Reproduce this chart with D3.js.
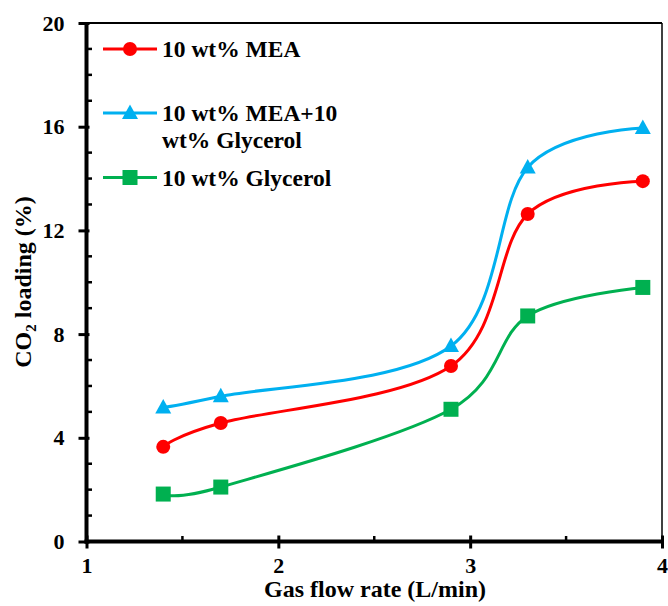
<!DOCTYPE html>
<html>
<head>
<meta charset="utf-8">
<script src="https://cdn.jsdelivr.net/npm/d3@7"></script>
<style>
  html, body { margin: 0; padding: 0; background: #fff; }
  svg { display: block; font-family: "Liberation Serif", "Times New Roman", serif; font-weight: bold; }
</style>
</head>
<body>
<svg id="chart" width="668" height="606"></svg>
<script>
// Gas flow rate (L/min)
const flowRates = [1.4, 1.7, 2.9, 3.3, 3.9];
// CO2 loading (%) for each absorbent
const meaValues = [3.65, 4.57, 6.77, 12.63, 13.9];
const meaGlycerolValues = [5.17, 5.6, 7.54, 14.43, 15.95];
const glycerolValues = [1.83, 2.1, 5.1, 8.7, 9.8];

const seriesNames = ["10 wt% MEA", "10 wt% MEA+10 wt% Glycerol", "10 wt% Glycerol"];
const xTicks = [1, 2, 3, 4];
const yTicks = [0, 4, 8, 12, 16, 20];

const series = [
  { name: seriesNames[0], values: meaValues, color: "#FF0000", marker: "circle",
    legendLines: ["10 wt% MEA"] },
  { name: seriesNames[1], values: meaGlycerolValues, color: "#00B0F0", marker: "triangle",
    legendLines: ["10 wt% MEA+10", "wt% Glycerol"] },
  { name: seriesNames[2], values: glycerolValues, color: "#00B050", marker: "square",
    legendLines: ["10 wt% Glycerol"] }
];

const svg = d3.select("#chart");
const plotLeft = 86.5, plotRight = 662, plotTop = 23, plotBottom = 541.5;

const x = d3.scaleLinear().domain([1, 4]).range([plotLeft, plotRight]);
const y = d3.scaleLinear().domain([0, 20]).range([plotBottom, plotTop]);

// Frame: thin top and right borders
svg.append("line").attr("x1", plotLeft).attr("x2", plotRight).attr("y1", plotTop).attr("y2", plotTop)
  .attr("stroke", "#000").attr("stroke-width", 2);
svg.append("line").attr("x1", plotRight).attr("x2", plotRight).attr("y1", plotTop).attr("y2", plotBottom)
  .attr("stroke", "#000").attr("stroke-width", 1.5);

// Minor ticks (inside)
const yMinor = d3.range(0, 21, 1).filter(v => v % 4 !== 0);
svg.append("g").selectAll("line").data(yMinor).join("line")
  .attr("x1", plotLeft).attr("x2", plotLeft + 5.5)
  .attr("y1", d => y(d)).attr("y2", d => y(d))
  .attr("stroke", "#000").attr("stroke-width", 2.5);
const xMinor = [1.5, 2.5, 3.5];
svg.append("g").selectAll("line").data(xMinor).join("line")
  .attr("x1", d => x(d)).attr("x2", d => x(d))
  .attr("y1", plotBottom).attr("y2", plotBottom - 5.5)
  .attr("stroke", "#000").attr("stroke-width", 2.5);

// Y axis
const yAxis = svg.append("g").attr("transform", `translate(${plotLeft},0)`)
  .call(d3.axisLeft(y).tickValues(yTicks).tickFormat(d3.format("d"))
    .tickSize(8).tickPadding(14).tickSizeOuter(0));
yAxis.select(".domain").attr("stroke-width", 4).attr("d", `M0,${plotBottom + 2}V${plotTop - 1}`);
yAxis.selectAll(".tick line").attr("stroke-width", 3).attr("x1", 3);
yAxis.selectAll(".tick text").attr("font-size", 22).attr("font-family", "Liberation Serif")
  .attr("font-weight", "bold").attr("fill", "#000");

// X axis
const xAxis = svg.append("g").attr("transform", `translate(0,${plotBottom})`)
  .call(d3.axisBottom(x).tickValues(xTicks).tickFormat(d3.format("d"))
    .tickSize(7).tickPadding(9).tickSizeOuter(0));
xAxis.select(".domain").attr("stroke-width", 4).attr("d", `M${plotLeft - 2},0H${plotRight + 1}`);
xAxis.selectAll(".tick line").attr("stroke-width", 3).attr("y1", -6);
xAxis.selectAll(".tick text").attr("font-size", 22).attr("font-family", "Liberation Serif")
  .attr("font-weight", "bold").attr("fill", "#000");

// Smoothed series lines
const line = d3.line()
  .x((d, i) => x(flowRates[i]))
  .y(d => y(d))
  .curve(d3.curveCardinal.tension(0));

function drawMarker(g, type, cx, cy, color) {
  if (type === "circle") {
    g.append("circle").attr("cx", cx).attr("cy", cy).attr("r", 7).attr("fill", color);
  } else if (type === "triangle") {
    g.append("path").attr("d", `M${cx},${cy - 8.5}L${cx + 8},${cy + 6}L${cx - 8},${cy + 6}Z`).attr("fill", color);
  } else {
    g.append("rect").attr("x", cx - 7.5).attr("y", cy - 7.5).attr("width", 15).attr("height", 15).attr("fill", color);
  }
}

series.forEach(s => {
  const g = svg.append("g");
  g.append("path").datum(s.values).attr("d", line)
    .attr("fill", "none").attr("stroke", s.color).attr("stroke-width", 3);
  s.values.forEach((v, i) => drawMarker(g, s.marker, x(flowRates[i]), y(v), s.color));
});

// Legend
const legendRows = [
  { markerY: 49, baselines: [57] },
  { markerY: 113, baselines: [121, 148] },
  { markerY: 177.5, baselines: [185.5] }
];
series.forEach((s, i) => {
  const g = svg.append("g");
  const row = legendRows[i];
  g.append("line").attr("x1", 103).attr("x2", 157).attr("y1", row.markerY).attr("y2", row.markerY)
    .attr("stroke", s.color).attr("stroke-width", 3);
  drawMarker(g, s.marker, 130, row.markerY, s.color);
  s.legendLines.forEach((t, j) => {
    g.append("text").attr("x", 162).attr("y", row.baselines[j]).attr("font-size", 23.5)
      .attr("fill", "#000").text(t);
  });
});

// Axis titles
svg.append("text").attr("x", 375).attr("y", 597)
  .attr("text-anchor", "middle").attr("font-size", 24).attr("fill", "#000")
  .text("Gas flow rate (L/min)");

const yTitle = svg.append("text")
  .attr("transform", `translate(31,282) rotate(-90)`)
  .attr("text-anchor", "middle").attr("font-size", 24).attr("fill", "#000");
yTitle.append("tspan").text("CO");
yTitle.append("tspan").attr("font-size", 15).attr("dy", 5).text("2");
yTitle.append("tspan").attr("dy", -5).text(" loading (%)");
</script>
</body>
</html>
